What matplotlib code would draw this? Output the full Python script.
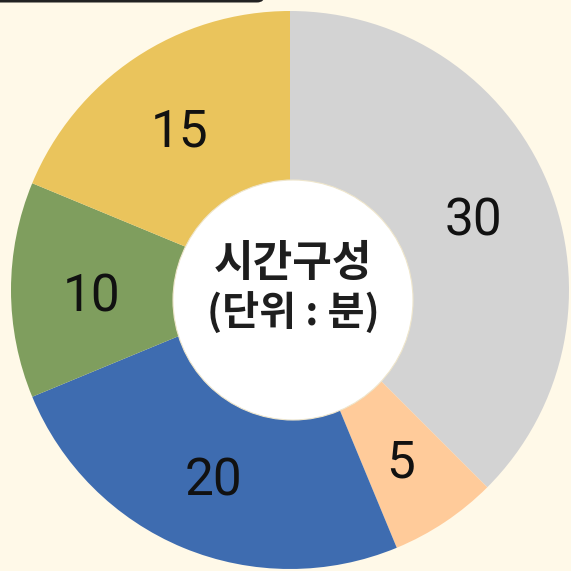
import matplotlib
matplotlib.use('Agg')
import matplotlib.pyplot as plt
from matplotlib.patches import Circle, FancyBboxPatch

# 시간구성 데이터 (단위: 분)
values = [30, 5, 20, 10, 15]
colors = ['#D3D3D3', '#FFCB9A', '#3E6CB0', '#7F9E5E', '#EAC45C']
center_title = '시간구성'
center_sub = '(단위 : 분)'

BG = '#FFF9E8'
W = H = 571

fig = plt.figure(figsize=(5.71, 5.71), dpi=100, facecolor=BG)
ax = fig.add_axes([0, 0, 1, 1])
ax.set_facecolor(BG)

total = sum(values)
wedges, _, autotexts = ax.pie(
    values,
    colors=colors,
    startangle=90,
    counterclock=False,
    center=(290, H - 290),
    radius=279,
    autopct=lambda p: f'{p * total / 100:.0f}',
    pctdistance=0.713,
    wedgeprops={'linewidth': 0},
    textprops={'fontsize': 37, 'color': '#111111', 'family': 'Roboto'},
    frame=True,
)
ax.set_xlim(0, W)
ax.set_ylim(0, H)
ax.set_aspect('equal')
ax.axis('off')

# 숫자 라벨을 글자 중심에 맞게 살짝 내림
for t in autotexts:
    x, y = t.get_position()
    t.set_position((x, y - 8))

# 가운데 흰 원
ax.add_patch(Circle((293, H - 300), 120, facecolor='white',
                    edgecolor='#EFE6CC', linewidth=0.8, zorder=3))
cjk = ['Noto Sans CJK KR', 'DejaVu Sans']
ax.text(293, H - 263, center_title, ha='center', va='center', fontsize=31,
        fontweight='bold', color='#1E1E1E', family=cjk, zorder=4)
ax.text(293, H - 314, center_sub, ha='center', va='center', fontsize=29,
        fontweight='bold', color='#1E1E1E', family=cjk, zorder=4)

# 상단 왼쪽 어두운 바
ax.add_patch(FancyBboxPatch((-30, H - 2.5), 295, 30,
                            boxstyle='round,pad=0,rounding_size=8',
                            facecolor='#222222', edgecolor='none',
                            zorder=5, clip_on=True))

fig.savefig('out.png', dpi=100, facecolor=BG)
